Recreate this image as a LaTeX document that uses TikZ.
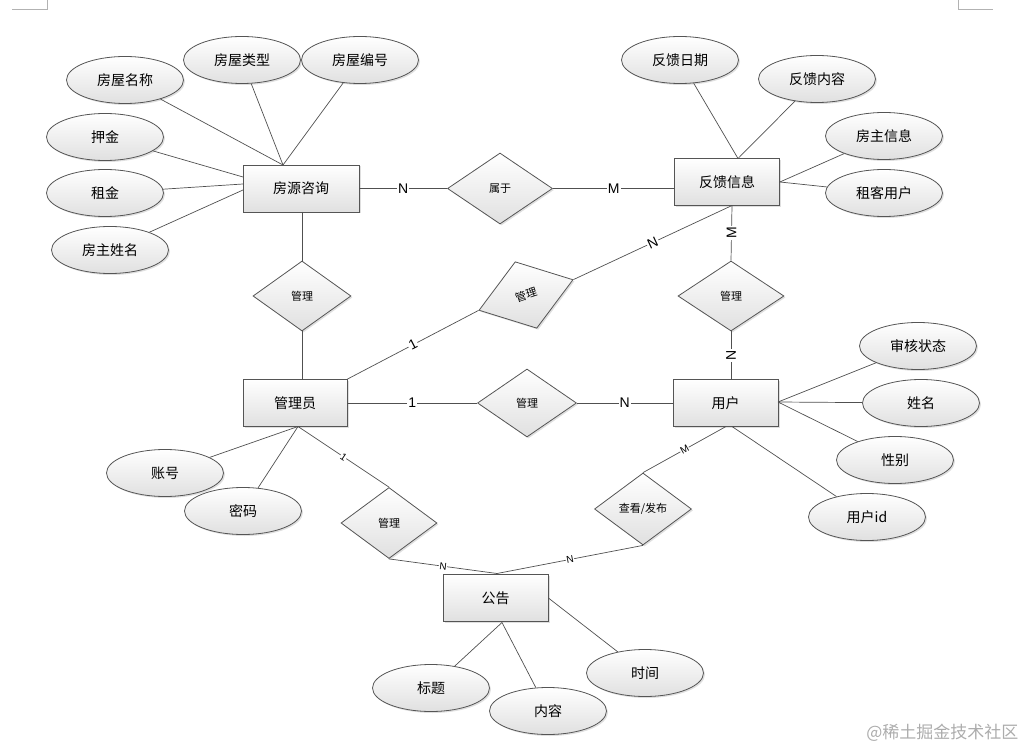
\documentclass[tikz,border=0pt]{standalone}
\usepackage{fontspec}
\setmainfont{Noto Sans CJK SC}
\newfontfamily\lat{Liberation Sans}
\usetikzlibrary{shapes.geometric,shadows}
\definecolor{edgec}{HTML}{505050}
\definecolor{shapeline}{HTML}{555555}
\definecolor{fillbot}{HTML}{E0E0E0}
\begin{document}
\begin{tikzpicture}[x=1pt,y=-1pt,
  base/.style={draw=shapeline, line width=0.8pt, top color=white, bottom color=fillbot,
    drop shadow={shadow xshift=1.5pt,shadow yshift=-1.5pt,opacity=0.25}},
  entity/.style={base, rectangle, minimum width=105pt, minimum height=47pt, inner sep=0pt,
    font=\fontsize{14}{16}\selectfont},
  attr/.style={base, ellipse, minimum width=117pt, minimum height=47pt, inner sep=0pt,
    font=\fontsize{14}{16}\selectfont},
  rel/.style={base, diamond, minimum width=98pt, minimum height=70pt, inner sep=0pt,
    font=\fontsize{11}{13}\selectfont},
  conn/.style={draw=edgec, line width=0.7pt},
  card/.style={fill=white, inner sep=1pt, font=\lat\fontsize{14}{16}\selectfont},
  cards/.style={fill=white, inner sep=0.5pt, font=\lat\fontsize{10}{12}\selectfont},
  cornermark/.style={draw=gray!60, line width=0.8pt}
]
\useasboundingbox (0,0) rectangle (1028,751);

% corner marks
\coordinate (m1) at (12,9); \coordinate (m2) at (47,9); \coordinate (m3) at (47,0);
\coordinate (m4) at (958,0); \coordinate (m5) at (958,9); \coordinate (m6) at (993,9);
\draw[cornermark] (m1) -- (m2) -- (m3);
\draw[cornermark] (m4) -- (m5) -- (m6);

% entities
\node[entity, minimum width=116pt] (fy) at (301,188.5) {房源咨询};
\node[entity] (fk) at (727,182) {反馈信息};
\node[entity, minimum width=104pt] (gl) at (295,403) {管理员};
\node[entity] (yh) at (725.5,403) {用户};
\node[entity] (gg) at (495.5,598) {公告};

% relationships
\node[rel, minimum width=105pt, minimum height=71pt] (sy) at (500,188.5) {属于};
\node[rel] (r1) at (302,296) {管理};
\node[rel, minimum width=99pt, minimum height=70pt, rotate=18] (r2) at (526,295) {管理};
\node[rel, minimum width=106pt] (r3) at (731,296) {管理};
\node[rel, minimum width=99pt, minimum height=68pt] (r4) at (527,403) {管理};
\node[rel, minimum width=96pt, minimum height=71pt] (r5) at (389,523) {管理};
\node[rel, minimum width=97pt, minimum height=72pt] (r6) at (643,509) {查看/发布};

% attributes
\node[attr] (a1) at (125,80) {房屋名称};
\node[attr] (a2) at (242,60) {房屋类型};
\node[attr] (a3) at (360,60) {房屋编号};
\node[attr] (a4) at (105,137) {押金};
\node[attr] (a5) at (105,193) {租金};
\node[attr] (a6) at (110,250) {房主姓名};
\node[attr] (b1) at (680,60) {反馈日期};
\node[attr] (b2) at (817,79) {反馈内容};
\node[attr] (b3) at (884,136) {房主信息};
\node[attr] (b4) at (884,193) {租客用户};
\node[attr] (c1) at (918,346) {审核状态};
\node[attr] (c2) at (921,403) {姓名};
\node[attr] (c3) at (895,460) {性别};
\node[attr] (c4) at (867,517) {用户id};
\node[attr] (d1) at (165,473) {账号};
\node[attr] (d2) at (243,511) {密码};
\node[attr] (e1) at (431,688) {标题};
\node[attr] (e2) at (548,711) {内容};
\node[attr] (e3) at (645,673) {时间};

% anchor points on entities
\coordinate (fyT) at (283,165);
\coordinate (fyL1) at (243,177);
\coordinate (fyL2) at (243,184);
\coordinate (fyL3) at (243,190);
\coordinate (fyB) at (302,212);
\coordinate (fkT) at (738,158.5);
\coordinate (fkL) at (674.5,188.5);
\coordinate (fkB) at (732,205.5);
\coordinate (glT) at (302,379.5);
\coordinate (glB) at (298,426.5);
\coordinate (yhT) at (731,379.5);
\coordinate (yhR) at (778,402);
\coordinate (yhB1) at (726,426.5);
\coordinate (yhB2) at (732,426.5);
\coordinate (ggT) at (497,573.5);
\coordinate (ggB) at (502,622.5);

% attribute connectors
\draw[conn] (a1) -- (fyT);
\draw[conn] (a2) -- (fyT);
\draw[conn] (a3) -- (fyT);
\draw[conn] (a4) -- (fyL1);
\draw[conn] (a5) -- (fyL2);
\draw[conn] (a6) -- (fyL3);
\draw[conn] (b1) -- (fkT);
\draw[conn] (b2) -- (fkT);
\draw[conn] (b3) -- (fk.east);
\draw[conn] (b4) -- (fk.east);
\draw[conn] (c1) -- (yhR);
\draw[conn] (c2) -- (yhR);
\draw[conn] (c3) -- (yhR);
\draw[conn] (c4) -- (yhB2);
\draw[conn] (d1) -- (glB);
\draw[conn] (d2) -- (glB);
\draw[conn] (e1) -- (ggB);
\draw[conn] (e2) -- (ggB);
\draw[conn] (e3) -- (gg.east);

% relationship connectors
\draw[conn] (fy.east) -- node[card]{N} (sy.west);
\draw[conn] (sy.east) -- node[card]{M} (fkL);
\draw[conn] (fyB) -- (r1.north);
\draw[conn] (r1.south) -- (glT);
\draw[conn] (gl.north east) -- node[card, rotate=27]{1} (r2.west);
\draw[conn] (r2.east) -- node[card, rotate=25]{N} (fkB);
\draw[conn] (fkB) -- node[card, rotate=90]{M} (r3.north);
\draw[conn] (r3.south) -- node[card, rotate=90]{N} (yhT);
\draw[conn] (gl.east) -- node[card]{1} (r4.west);
\draw[conn] (r4.east) -- node[card]{N} (yh.west);
\draw[conn] (glB) -- node[cards, rotate=-34]{1} (r5.north);
\draw[conn] (r5.south) -- node[cards, rotate=-7]{N} (ggT);
\draw[conn] (r6.south) -- node[cards, rotate=11]{N} (ggT);
\draw[conn] (r6.north) -- node[cards, rotate=29]{M} (yhB1);

% watermark
\node[text=gray!65, font=\fontsize{17}{20}\selectfont, anchor=east] (wm) at (1022,733) {@稀土掘金技术社区};
\end{tikzpicture}
\end{document}
